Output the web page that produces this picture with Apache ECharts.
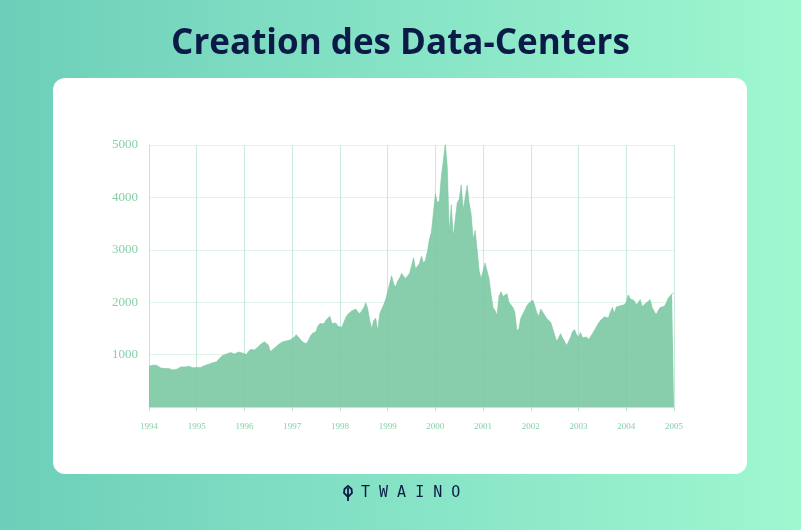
<!DOCTYPE html>
<html>
<head>
<meta charset="utf-8">
<script src="https://cdn.jsdelivr.net/npm/echarts@6/dist/echarts.min.js"></script>
<style>
html,body{margin:0;padding:0;width:801px;height:530px;overflow:hidden;}
body{background:linear-gradient(90deg,#6dcfb9 0%,#86e3c6 50%,#9ef7cf 100%);position:relative;}
#card{position:absolute;left:53px;top:78px;width:694px;height:396px;background:#fff;border-radius:12px;}
#chart{position:absolute;left:0;top:0;width:801px;height:530px;}
</style>
</head>
<body>
<div id="card"></div>
<div id="chart"></div>
<script>
// Axis ticks
const yearTicks = [1994,1995,1996,1997,1998,1999,2000,2001,2002,2003,2004,2005];
const yTicks = [1000,2000,3000,4000,5000];
// Index values, sampled twice a month (start / middle of each month)
const v1994 = [777,795,800,790,793,800,743,725,733,732,735,735,706,712,722,745,765,770,764,770,777,765,750,728];
const v1995 = [752,760,755,775,793,800,817,830,843,855,865,910,933,985,1001,1010,1020,1040,1044,1010,1036,1050,1059,1030];
const v1996 = [1052,1000,1060,1100,1100,1090,1101,1150,1191,1220,1243,1230,1185,1060,1081,1120,1141,1190,1226,1240,1221,1260,1293,1280];
const v1997 = [1291,1330,1380,1340,1309,1250,1222,1205,1261,1340,1400,1430,1442,1550,1594,1580,1587,1660,1686,1730,1593,1600,1601,1540];
const v1998 = [1570,1520,1619,1710,1771,1800,1835,1860,1868,1820,1779,1800,1895,1990,1873,1650,1499,1650,1694,1450,1771,1870,1950,2050];
const v1999 = [2193,2350,2505,2350,2288,2400,2461,2550,2543,2450,2471,2550,2686,2850,2638,2620,2739,2880,2746,2800,2966,3200,3336,3700];
const v2000 = [4069,3900,3940,4400,4696,5040,4573,3321,3860,3250,3580,3900,3966,4240,3766,4000,4234,3900,3673,3200,3370,3000,2598,2450];
const v2001 = [2470,2750,2773,2450,2151,1900,1840,1750,2116,2200,2110,2100,2161,2000,2027,1900,1805,1450,1499,1700,1690,1850,1930,1980];
const v2002 = [1950,2040,1934,1800,1731,1870,1845,1750,1688,1650,1616,1500,1463,1250,1328,1400,1315,1250,1172,1150,1330,1440,1479,1380];
const v2003 = [1336,1420,1321,1300,1337,1290,1341,1400,1464,1530,1596,1650,1623,1720,1735,1700,1810,1900,1787,1910,1932,1930,1960,1950];
const v2004 = [2003,2140,2066,2080,2030,1950,1994,2050,1920,1930,1987,1990,2048,1900,1887,1760,1838,1900,1897,1920,1975,2070,2097,2160];
const vEnd2005 = 2175;

const yearly = [v1994,v1995,v1996,v1997,v1998,v1999,v2000,v2001,v2002,v2003,v2004];
const data = [];
yearly.forEach((arr, k) => {
  arr.forEach((v, i) => data.push([yearTicks[k] + i / 24, v]));
});
data.push([2005, vEnd2005]);

const chart = echarts.init(document.getElementById('chart'), null, {renderer:'canvas'});
const lblColor = '#84d1a8';
const navy = '#0c1a47';
chart.setOption({
  animation:false,
  backgroundColor:'transparent',
  title:{
    text:'Creation des Data-Centers',
    left:'center', top:22,
    textStyle:{fontFamily:'Open Sans', fontWeight:'bold', fontSize:35, color:navy}
  },
  grid:{left:149, top:145, width:525, height:262, containLabel:false},
  xAxis:{
    type:'value', min:1994, max:2005, interval:1,
    axisLine:{show:true, lineStyle:{color:'#bfe6d2', width:1}},
    axisTick:{show:true, length:4, lineStyle:{color:'#bfe6d2'}},
    axisLabel:{color:lblColor, fontFamily:'Liberation Serif', fontSize:9, margin:15, formatter:v=>String(v)},
    splitLine:{show:true, lineStyle:{color:'#c9e9da', width:1}}
  },
  yAxis:{
    type:'value', min:0, max:5000, interval:1000,
    axisLine:{show:true, lineStyle:{color:'#bfe6d2'}},
    axisTick:{show:false},
    axisLabel:{color:lblColor, fontFamily:'Liberation Serif', fontSize:13, margin:11,
      formatter:v=> v===0 ? '' : String(v)},
    splitLine:{show:true, lineStyle:{color:'#e2f3ea', width:1}}
  },
  series:[{
    type:'line', data:data, showSymbol:false, sampling:null,
    lineStyle:{width:0.6, color:'rgba(120,198,160,0.9)'},
    areaStyle:{color:'rgba(120,198,160,0.88)', opacity:1}
  }],
  graphic:[
    {type:'polygon', z:10,
     shape:{points:[[348,486],[351.5,489],[352,493],[348,497],[344,493],[344.5,489]]},
     style:{fill:'none', stroke:navy, lineWidth:1.8}},
    {type:'line', z:10, shape:{x1:348, y1:488, x2:348, y2:501},
     style:{stroke:navy, lineWidth:1.8}},
    {type:'text', left:361, top:486, z:10,
     style:{text:'T W A I N O', font:'15px "DejaVu Sans Mono"', fill:navy}}
  ]
});
</script>
</body>
</html>
